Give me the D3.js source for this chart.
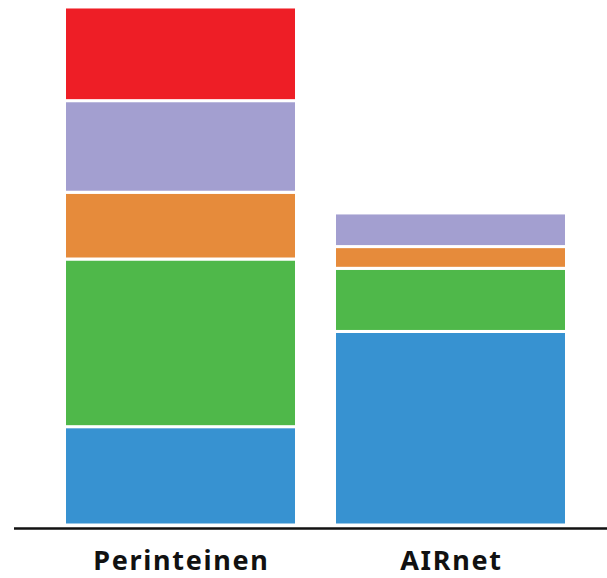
<!DOCTYPE html>
<html>
<head>
<meta charset="utf-8">
<script src="https://cdn.jsdelivr.net/npm/d3@7"></script>
<style>
  body { margin: 0; background: #fff; }
  .label { font-family: "Noto Sans", sans-serif; font-weight: bold; font-size: 27px; letter-spacing: 1.7px; fill: #111; }
</style>
</head>
<body>
<div id="chart"></div>
<script>
let categories = ["Perinteinen", "AIRnet"],
    keys = ["blue", "green", "orange", "purple", "red"],
    colors = ["#3792d1", "#4fb84a", "#e68b3b", "#a39fd0", "#ee1e26"],
    blueVals = [19.0, 37.4],
    greenVals = [32.4, 12.2],
    orangeVals = [12.9, 4.2],
    purpleVals = [17.7, 6.5],
    redVals = [18.1, 0];

let width = 607, height = 578;

let data = categories.map(function (c, i) {
    return { cat: c, blue: blueVals[i], green: greenVals[i], orange: orangeVals[i], purple: purpleVals[i], red: redVals[i] };
});

let svg = d3.select("#chart").append("svg")
    .attr("width", width)
    .attr("height", height);

let x = d3.scaleBand()
    .domain(categories)
    .range([37.5, 593.5])
    .paddingInner(0.1407)
    .paddingOuter(0.1);

let y = d3.scaleLinear()
    .domain([0, 100])
    .range([525, 7.5]);

let series = d3.stack().keys(keys)(data);

svg.selectAll(".layer")
    .data(series)
    .enter().append("g")
    .attr("class", "layer")
    .attr("fill", function (d, i) { return colors[i]; })
    .selectAll("rect")
    .data(function (d) { return d.filter(function (s) { return s[1] - s[0] > 0; }); })
    .enter().append("rect")
    .attr("x", function (d) { return x(d.data.cat); })
    .attr("width", x.bandwidth())
    .attr("y", function (d) { return y(d[1]); })
    .attr("height", function (d) { return y(d[0]) - y(d[1]); })
    .attr("stroke", "#fff")
    .attr("stroke-width", 3);

// baseline
svg.append("line")
    .attr("x1", 14).attr("x2", width)
    .attr("y1", 528.5).attr("y2", 528.5)
    .attr("stroke", "#111")
    .attr("stroke-width", 2.5);

svg.selectAll(".label")
    .data(categories)
    .enter().append("text")
    .attr("class", "label")
    .attr("x", function (d) { return x(d) + x.bandwidth() / 2 + 0.9; })
    .attr("y", 570)
    .attr("text-anchor", "middle")
    .text(function (d) { return d; });
</script>
</body>
</html>
